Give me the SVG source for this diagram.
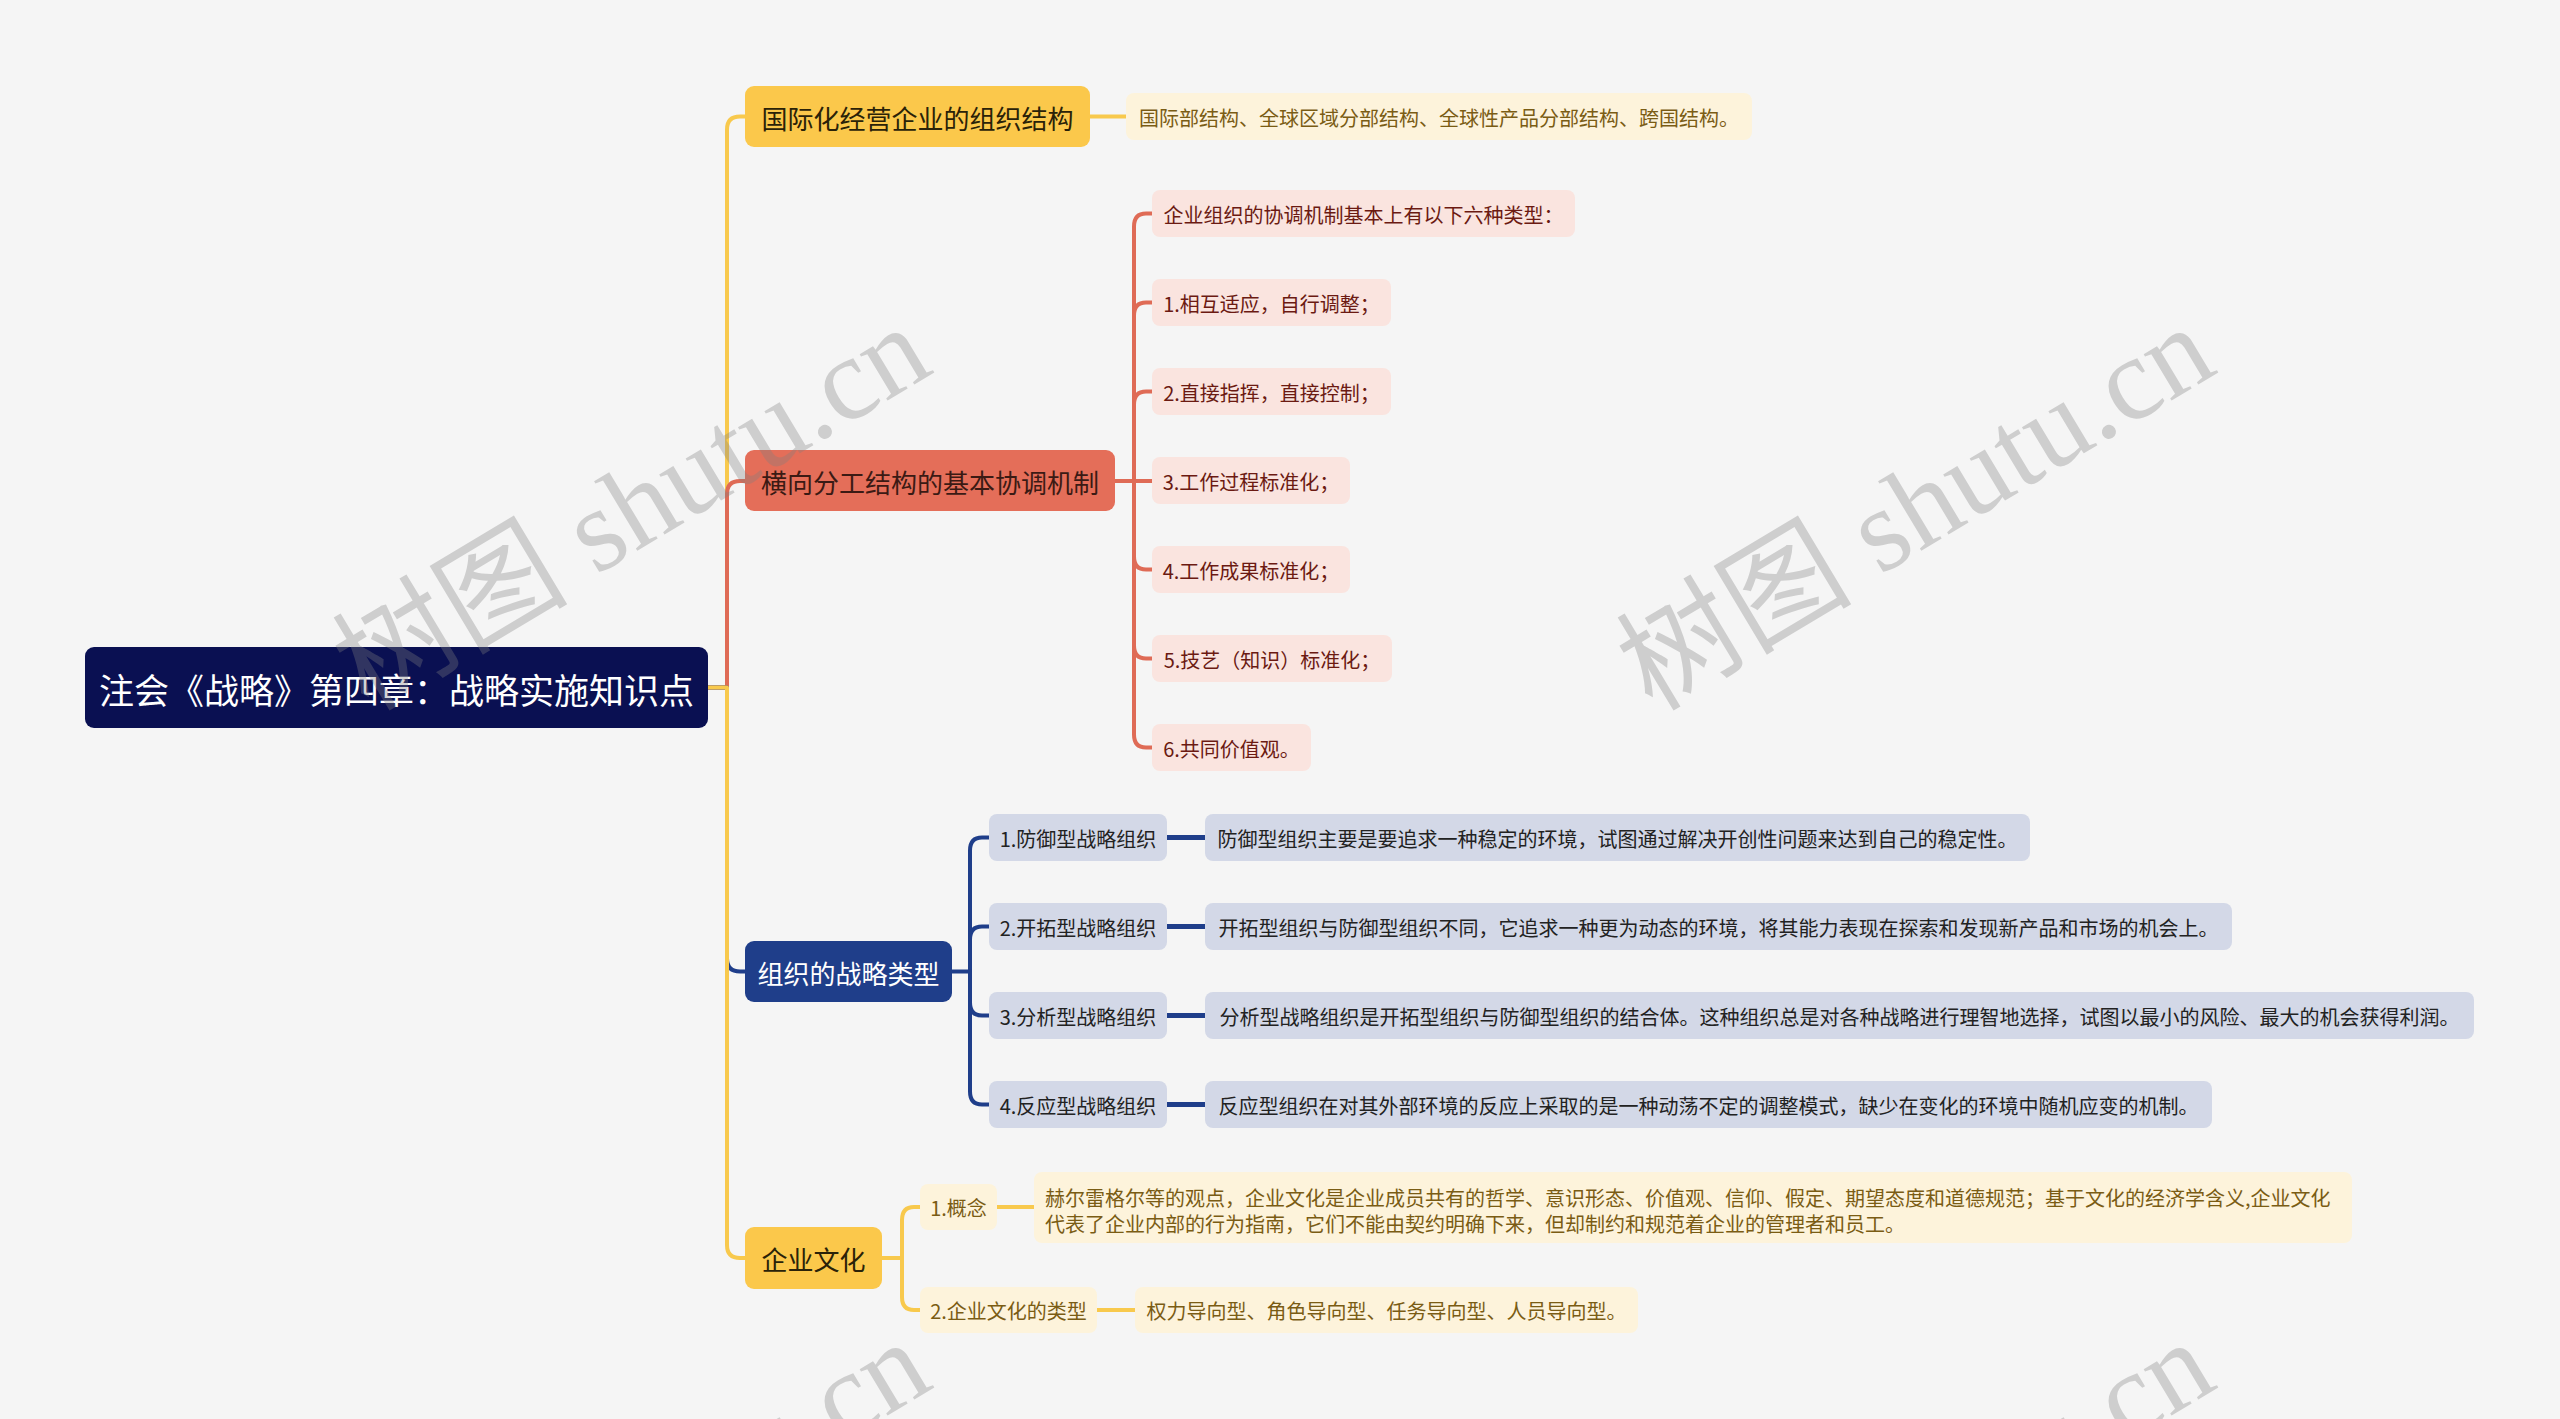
<svg xmlns="http://www.w3.org/2000/svg" width="2560" height="1419" viewBox="0 0 2560 1419">
<style>
text{font-family:"Noto Sans CJK SC","Microsoft YaHei",sans-serif;dominant-baseline:central}
.c{text-anchor:middle}
.root{fill:#0a1052}
.rt{fill:#ffffff;font-size:35px}
.y1{fill:#fbc84b}
.r1{fill:#e46e59}
.b1{fill:#1f3e8a}
.t1{font-size:26px}
.yl{fill:#fdf3db}
.rl{fill:#fae4df}
.bl{fill:#d3d8e7}
.lt{font-size:20px}
.ylt{fill:#7a5c14}
.rlt{fill:#6b1a12}
.blt{fill:#222222}
.ln{fill:none;stroke-width:4;stroke-linecap:round;stroke-linejoin:round}
.ly{stroke:#f8c94d}
.lr{stroke:#df6b56}
.lb{stroke:#1f3e8a}
.wm{font-family:"Liberation Serif","Noto Sans CJK SC",serif;font-size:118px;fill:#808080;opacity:0.33;dominant-baseline:auto}
</style>
<rect x="0" y="0" width="2560" height="1419" fill="#f5f5f5"/>

<g id="connectors">
  <path class="ln ly" d="M708,687.5 H727 V129.5 Q727,116.5 740,116.5 H745"/>
  <path class="ln lr" d="M708,687.5 H727 V494 Q727,481 740,481 H745"/>
  <path class="ln lb" d="M708,687.5 H727 V958.5 Q727,971.5 740,971.5 H745"/>
  <path class="ln ly" d="M708,687.5 H727 V1245 Q727,1258 740,1258 H745"/>
  <path class="ln ly" d="M1090,116.5 H1126"/>
  <path class="ln lr" d="M1115,481 H1134 V226.5 Q1134,213.5 1146,213.5 H1152"/>
  <path class="ln lr" d="M1134,481 V315.5 Q1134,302.5 1146,302.5 H1152"/>
  <path class="ln lr" d="M1134,481 V404.5 Q1134,391.5 1146,391.5 H1152"/>
  <path class="ln lr" d="M1134,481 H1152"/>
  <path class="ln lr" d="M1134,481 V556.5 Q1134,569.5 1146,569.5 H1152"/>
  <path class="ln lr" d="M1134,481 V645.5 Q1134,658.5 1146,658.5 H1152"/>
  <path class="ln lr" d="M1134,481 V734.5 Q1134,747.5 1146,747.5 H1152"/>
  <path class="ln lb" d="M952,971.5 H970 V850.5 Q970,837.5 982,837.5 H989"/>
  <path class="ln lb" d="M970,971.5 V939.5 Q970,926.5 982,926.5 H989"/>
  <path class="ln lb" d="M970,971.5 V1002.5 Q970,1015.5 982,1015.5 H989"/>
  <path class="ln lb" d="M970,971.5 V1091.5 Q970,1104.5 982,1104.5 H989"/>
  <path class="ln lb" style="stroke-width:5" d="M1167,837.5 H1205 M1167,926.5 H1205 M1167,1015.5 H1205 M1167,1104.5 H1205"/>
  <path class="ln ly" d="M882,1258 H902 V1220 Q902,1207 914,1207 H920"/>
  <path class="ln ly" d="M902,1258 V1297 Q902,1310 914,1310 H920"/>
  <path class="ln ly" d="M997,1207 H1034"/>
  <path class="ln ly" d="M1097,1310 H1135"/>
</g>

<g id="root">
  <rect class="root" x="85" y="647" width="623" height="81" rx="9"/>
  <text class="c rt" x="396.5" y="688">注会《战略》第四章：战略实施知识点</text>
</g>

<g id="n1">
  <rect class="y1" x="745" y="86" width="345" height="61" rx="9"/>
  <text class="c t1" x="917.5" y="117" fill="#2a2208">国际化经营企业的组织结构</text>
</g>
<g id="n1a">
  <rect class="yl" x="1126" y="93" width="626" height="47" rx="8"/>
  <text class="c lt ylt" x="1439" y="117">国际部结构、全球区域分部结构、全球性产品分部结构、跨国结构。</text>
</g>

<g id="n2">
  <rect class="r1" x="745" y="450" width="370" height="61" rx="9"/>
  <text class="c t1" x="930" y="481" fill="#3b1a14">横向分工结构的基本协调机制</text>
</g>
<g id="n2a">
  <rect class="rl" x="1152" y="190" width="423" height="47" rx="8"/>
  <text class="c lt rlt" x="1363.5" y="214">企业组织的协调机制基本上有以下六种类型：</text>
</g>
<g id="n2b">
  <rect class="rl" x="1152" y="279" width="239" height="47" rx="8"/>
  <text class="c lt rlt" x="1271.5" y="303">1.相互适应，自行调整；</text>
</g>
<g id="n2c">
  <rect class="rl" x="1152" y="368" width="239" height="47" rx="8"/>
  <text class="c lt rlt" x="1271.5" y="392">2.直接指挥，直接控制；</text>
</g>
<g id="n2d">
  <rect class="rl" x="1152" y="457" width="198" height="47" rx="8"/>
  <text class="c lt rlt" x="1251" y="481">3.工作过程标准化；</text>
</g>
<g id="n2e">
  <rect class="rl" x="1152" y="546" width="198" height="47" rx="8"/>
  <text class="c lt rlt" x="1251" y="570">4.工作成果标准化；</text>
</g>
<g id="n2f">
  <rect class="rl" x="1152" y="635" width="240" height="47" rx="8"/>
  <text class="c lt rlt" x="1272" y="659">5.技艺（知识）标准化；</text>
</g>
<g id="n2g">
  <rect class="rl" x="1152" y="724" width="159" height="47" rx="8"/>
  <text class="c lt rlt" x="1231.5" y="748">6.共同价值观。</text>
</g>

<g id="n3">
  <rect class="b1" x="745" y="941" width="207" height="61" rx="9"/>
  <text class="c t1" x="848.5" y="972" fill="#ffffff">组织的战略类型</text>
</g>
<g id="n3a">
  <rect class="bl" x="989" y="814" width="178" height="47" rx="8"/>
  <text class="c lt blt" x="1078" y="838">1.防御型战略组织</text>
</g>
<g id="n3b">
  <rect class="bl" x="989" y="903" width="178" height="47" rx="8"/>
  <text class="c lt blt" x="1078" y="927">2.开拓型战略组织</text>
</g>
<g id="n3c">
  <rect class="bl" x="989" y="992" width="178" height="47" rx="8"/>
  <text class="c lt blt" x="1078" y="1016">3.分析型战略组织</text>
</g>
<g id="n3d">
  <rect class="bl" x="989" y="1081" width="178" height="47" rx="8"/>
  <text class="c lt blt" x="1078" y="1105">4.反应型战略组织</text>
</g>
<g id="n3a1">
  <rect class="bl" x="1205" y="814" width="825" height="47" rx="8"/>
  <text class="c lt blt" x="1617.5" y="838">防御型组织主要是要追求一种稳定的环境，试图通过解决开创性问题来达到自己的稳定性。</text>
</g>
<g id="n3b1">
  <rect class="bl" x="1205" y="903" width="1027" height="47" rx="8"/>
  <text class="c lt blt" x="1718.5" y="927">开拓型组织与防御型组织不同，它追求一种更为动态的环境，将其能力表现在探索和发现新产品和市场的机会上。</text>
</g>
<g id="n3c1">
  <rect class="bl" x="1205" y="992" width="1269" height="47" rx="8"/>
  <text class="c lt blt" x="1839.5" y="1016">分析型战略组织是开拓型组织与防御型组织的结合体。这种组织总是对各种战略进行理智地选择，试图以最小的风险、最大的机会获得利润。</text>
</g>
<g id="n3d1">
  <rect class="bl" x="1205" y="1081" width="1007" height="47" rx="8"/>
  <text class="c lt blt" x="1708.5" y="1105">反应型组织在对其外部环境的反应上采取的是一种动荡不定的调整模式，缺少在变化的环境中随机应变的机制。</text>
</g>

<g id="n4">
  <rect class="y1" x="745" y="1227" width="137" height="62" rx="9"/>
  <text class="c t1" x="813.5" y="1258" fill="#2a2208">企业文化</text>
</g>
<g id="n4a">
  <rect class="yl" x="920" y="1184" width="77" height="46" rx="8"/>
  <text class="c lt ylt" x="958.5" y="1207">1.概念</text>
</g>
<g id="n4a1">
  <rect class="yl" x="1034" y="1172" width="1318" height="71" rx="8"/>
  <text class="lt ylt" x="1045" y="1197">赫尔雷格尔等的观点，企业文化是企业成员共有的哲学、意识形态、价值观、信仰、假定、期望态度和道德规范；基于文化的经济学含义,企业文化</text>
  <text class="lt ylt" x="1045" y="1223">代表了企业内部的行为指南，它们不能由契约明确下来，但却制约和规范着企业的管理者和员工。</text>
</g>
<g id="n4b">
  <rect class="yl" x="920" y="1287" width="177" height="46" rx="8"/>
  <text class="c lt ylt" x="1008.5" y="1310">2.企业文化的类型</text>
</g>
<g id="n4b1">
  <rect class="yl" x="1135" y="1287" width="503" height="46" rx="8"/>
  <text class="c lt ylt" x="1386.5" y="1310">权力导向型、角色导向型、任务导向型、人员导向型。</text>
</g>

<g id="watermark">
  <text class="wm c" transform="translate(652,542) rotate(-31)">树图 shutu.cn</text>
  <text class="wm c" transform="translate(1936,542) rotate(-31)">树图 shutu.cn</text>
  <text class="wm c" transform="translate(652,1557) rotate(-31)">树图 shutu.cn</text>
  <text class="wm c" transform="translate(1936,1557) rotate(-31)">树图 shutu.cn</text>
</g>
</svg>
